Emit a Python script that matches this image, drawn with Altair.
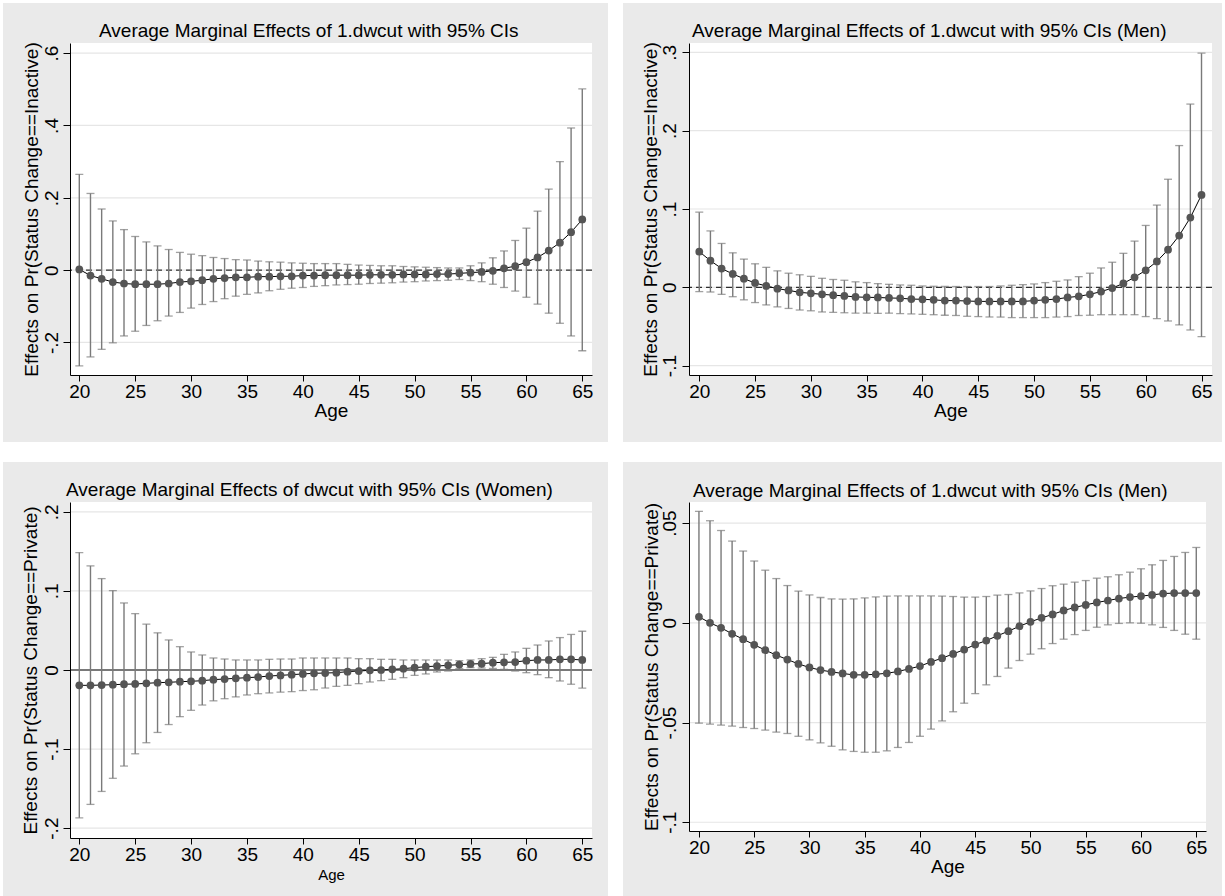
import altair as alt
import pandas as pd

FONT = "Liberation Sans, Arial, sans-serif"
GRAY_BG = "#EAEAEA"
GRID = "#E6E6E6"
BAR = "#7A7A7A"
PT = "#555555"

AGES = list(range(20, 66))
X_TICKS = [20, 25, 30, 35, 40, 45, 50, 55, 60, 65]

# Panel 1: Inactive, all
p1_est = [0.002, -0.015, -0.024, -0.033, -0.037, -0.039, -0.039, -0.039, -0.037, -0.033,
          -0.031, -0.028, -0.024, -0.022, -0.020, -0.020, -0.018, -0.018, -0.017, -0.017,
          -0.015, -0.015, -0.014, -0.014, -0.014, -0.014, -0.013, -0.013, -0.013, -0.012,
          -0.012, -0.012, -0.011, -0.011, -0.009, -0.007, -0.005, -0.002, 0.005, 0.011,
          0.022, 0.035, 0.054, 0.076, 0.105, 0.140]
p1_hi = [0.265, 0.212, 0.169, 0.136, 0.112, 0.093, 0.078, 0.067, 0.057, 0.049,
         0.044, 0.040, 0.035, 0.032, 0.029, 0.028, 0.025, 0.023, 0.022, 0.020,
         0.019, 0.018, 0.018, 0.018, 0.016, 0.014, 0.013, 0.012, 0.012, 0.010,
         0.009, 0.008, 0.007, 0.006, 0.006, 0.012, 0.020, 0.034, 0.053, 0.082,
         0.116, 0.163, 0.224, 0.300, 0.393, 0.501]
p1_lo = [-0.265, -0.240, -0.219, -0.201, -0.182, -0.169, -0.153, -0.140, -0.127, -0.117,
         -0.105, -0.095, -0.087, -0.079, -0.072, -0.067, -0.063, -0.057, -0.053, -0.050,
         -0.048, -0.045, -0.043, -0.041, -0.040, -0.039, -0.037, -0.036, -0.035, -0.033,
         -0.032, -0.030, -0.029, -0.028, -0.026, -0.029, -0.032, -0.039, -0.048, -0.058,
         -0.075, -0.094, -0.119, -0.147, -0.182, -0.223]

# Panel 2: Inactive, men
p2_est = [0.0455, 0.034, 0.024, 0.017, 0.011, 0.0055, 0.0017, -0.0017, -0.004, -0.0064,
          -0.0077, -0.009, -0.010, -0.011, -0.0123, -0.0128, -0.013, -0.0136, -0.014, -0.015,
          -0.0153, -0.016, -0.017, -0.017, -0.0175, -0.018, -0.018, -0.018, -0.018, -0.018,
          -0.017, -0.016, -0.015, -0.013, -0.0115, -0.009, -0.0055, -0.001, 0.005, 0.0128,
          0.0217, 0.033, 0.048, 0.066, 0.089, 0.118]
p2_hi = [0.096, 0.072, 0.056, 0.044, 0.036, 0.030, 0.0255, 0.021, 0.018, 0.016,
         0.014, 0.0115, 0.010, 0.009, 0.007, 0.006, 0.0047, 0.0038, 0.003, 0.0026,
         0.0017, 0.0013, 0.001, 0.001, 0.001, 0.001, 0.001, 0.0017, 0.0026, 0.0034,
         0.0043, 0.006, 0.0077, 0.0094, 0.0136, 0.018, 0.0247, 0.032, 0.0434, 0.059,
         0.079, 0.105, 0.138, 0.181, 0.234, 0.299]
p2_lo = [-0.0055, -0.006, -0.009, -0.012, -0.016, -0.0195, -0.0225, -0.025, -0.027, -0.029,
         -0.030, -0.0315, -0.032, -0.0325, -0.033, -0.033, -0.0333, -0.033, -0.0336, -0.034,
         -0.0345, -0.035, -0.0357, -0.036, -0.037, -0.0374, -0.0379, -0.038, -0.0387, -0.0387,
         -0.0387, -0.0387, -0.038, -0.0374, -0.036, -0.0357, -0.035, -0.035, -0.035, -0.035,
         -0.0374, -0.040, -0.043, -0.048, -0.0545, -0.063]

# Panel 3: Private, women
p3_est = [-0.0194, -0.0194, -0.019, -0.0186, -0.018, -0.0177, -0.0169, -0.016, -0.0156, -0.0148,
          -0.0143, -0.0135, -0.0122, -0.0114, -0.0105, -0.0097, -0.0089, -0.0076, -0.0068, -0.0059,
          -0.005, -0.0042, -0.0038, -0.0034, -0.0021, -0.0013, -0.0004, 0.0, 0.0008, 0.0017,
          0.003, 0.0042, 0.005, 0.0059, 0.0068, 0.0076, 0.008, 0.0093, 0.0097, 0.0101,
          0.0118, 0.0127, 0.0127, 0.0135, 0.0135, 0.0127]
p3_hi = [0.1485, 0.1317, 0.1156, 0.1004, 0.0848, 0.0713, 0.058, 0.047, 0.038, 0.0295,
         0.0228, 0.019, 0.0152, 0.0139, 0.0127, 0.0127, 0.0127, 0.0135, 0.0139, 0.0139,
         0.0152, 0.0152, 0.0152, 0.0152, 0.0152, 0.0143, 0.0143, 0.0135, 0.0135, 0.0127,
         0.0127, 0.0127, 0.0127, 0.0127, 0.0118, 0.0127, 0.0143, 0.016, 0.0198, 0.0228,
         0.0274, 0.0316, 0.0367, 0.041, 0.045, 0.049]
p3_lo = [-0.187, -0.170, -0.1536, -0.137, -0.1215, -0.106, -0.092, -0.079, -0.069, -0.059,
         -0.051, -0.0443, -0.039, -0.0363, -0.034, -0.0316, -0.030, -0.029, -0.028, -0.0274,
         -0.026, -0.025, -0.0228, -0.0207, -0.0194, -0.0173, -0.0152, -0.0135, -0.0118, -0.0097,
         -0.0068, -0.005, -0.0025, -0.0013, 0.0017, 0.003, 0.0025, 0.002, 0.0008, -0.0013,
         -0.0034, -0.0059, -0.0097, -0.0139, -0.018, -0.0228]

# Panel 4: Private, men
p4_est = [0.003, 0.0, -0.0025, -0.0055, -0.0082, -0.011, -0.0137, -0.0162, -0.0184, -0.0206,
          -0.0224, -0.0237, -0.0246, -0.0254, -0.0261, -0.0261, -0.0258, -0.0253, -0.0244, -0.0231,
          -0.0217, -0.0196, -0.0177, -0.0156, -0.0134, -0.0109, -0.0089, -0.0065, -0.0042, -0.0017,
          0.0005, 0.0025, 0.0042, 0.0062, 0.0077, 0.009, 0.0102, 0.0112, 0.0122, 0.0129,
          0.0134, 0.014, 0.0147, 0.0149, 0.0149, 0.0149]
p4_hi = [0.0559, 0.0512, 0.0463, 0.041, 0.036, 0.031, 0.0264, 0.0222, 0.0187, 0.0159,
         0.014, 0.0127, 0.012, 0.0119, 0.012, 0.0125, 0.013, 0.0134, 0.0135, 0.0135,
         0.0135, 0.0135, 0.0134, 0.0132, 0.0129, 0.0129, 0.0132, 0.0139, 0.0142, 0.015,
         0.016, 0.0172, 0.0186, 0.0194, 0.0204, 0.0212, 0.0224, 0.0231, 0.0241, 0.0254,
         0.0271, 0.0291, 0.0313, 0.0333, 0.0353, 0.0378]
p4_lo = [-0.0503, -0.0508, -0.0513, -0.0518, -0.0525, -0.053, -0.0538, -0.0548, -0.0555, -0.0569,
         -0.0587, -0.0602, -0.0619, -0.0637, -0.0645, -0.0649, -0.0649, -0.0642, -0.0625, -0.060,
         -0.0569, -0.0533, -0.0492, -0.0446, -0.0403, -0.0355, -0.0311, -0.0269, -0.0227, -0.0189,
         -0.0157, -0.013, -0.0104, -0.0082, -0.0059, -0.0038, -0.0022, -0.001, -0.0003, 0.0,
         -0.0002, -0.001, -0.0023, -0.0038, -0.0057, -0.0082]

p1_ticks = [-0.2, 0, 0.2, 0.4, 0.6]
p2_ticks = [-0.1, 0, 0.1, 0.2, 0.3]
p3_ticks = [-0.2, -0.1, 0, 0.1, 0.2]
p4_ticks = [-0.1, -0.05, 0, 0.05]

TITLES = [
    "Average Marginal Effects of 1.dwcut with 95% CIs",
    "Average Marginal Effects of 1.dwcut with 95% CIs (Men)",
    "Average Marginal Effects of dwcut with 95% CIs (Women)",
    "Average Marginal Effects of 1.dwcut with 95% CIs (Men)",
]
YTITLES = [
    "Effects on Pr(Status Change==Inactive)",
    "Effects on Pr(Status Change==Inactive)",
    "Effects on Pr(Status Change==Private)",
    "Effects on Pr(Status Change==Private)",
]


def panel(est, lo, hi, yticks, ydom, xdom, W, H, gx0, gx1, gy0, gy1,
          title, tdx, tdy, ytitle, ytx, ylpad, zero, age_size, strip=None):
    df = pd.DataFrame({"age": AGES, "est": est, "lo": lo, "hi": hi})
    xs = alt.Scale(domain=xdom, nice=False, zero=False)
    ys = alt.Scale(domain=ydom, nice=False, zero=False)
    xaxis = alt.Axis(values=X_TICKS, title="Age", grid=False, zindex=1,
                     tickSize=6, tickColor="#000", tickWidth=1,
                     domainColor="#000", domainWidth=1,
                     labelFontSize=19, labelFont=FONT, labelColor="#000",
                     labelBaseline="alphabetic", labelPadding=16.5, labelFlush=False,
                     labelAngle=0, labelOverlap=False,
                     titleFontSize=age_size, titleFont=FONT, titleFontWeight="normal",
                     titleColor="#000", titleBaseline="alphabetic", titleY=41)
    yaxis = alt.Axis(values=yticks, title=ytitle, grid=False, zindex=1,
                     tickSize=7, tickColor="#000", tickWidth=1,
                     domainColor="#000", domainWidth=1,
                     labelFontSize=19, labelFont=FONT, labelColor="#000",
                     labelAngle=270, labelAlign="center", labelBaseline="alphabetic",
                     labelPadding=ylpad, labelFlush=False, labelOverlap=False,
                     labelExpr="replace(toString(datum.value), '0.', '.')",
                     titleFontSize=19, titleFont=FONT, titleFontWeight="normal",
                     titleColor="#000", titleAngle=270, titleAlign="center",
                     titleBaseline="alphabetic", titleX=ytx, titleY=H / 2)
    X = alt.X("age:Q", scale=xs, axis=xaxis)

    one = alt.Data(values=[{"title": title}])
    layers = []
    layers.append(alt.Chart(one).mark_rect(color=GRAY_BG).encode(
        x=alt.value(gx0), x2=alt.value(gx1), y=alt.value(gy0), y2=alt.value(gy1)))
    if strip is not None:
        layers.append(alt.Chart(one).mark_rect(color="white").encode(
            x=alt.value(gx0), x2=alt.value(gx1), y=alt.value(strip), y2=alt.value(gy0)))
    layers.append(alt.Chart(one).mark_rect(color="white").encode(
        x=alt.value(0), x2=alt.value(W), y=alt.value(0), y2=alt.value(H)))
    layers.append(alt.Chart(pd.DataFrame({"v": yticks})).mark_rule(
        color=GRID, strokeWidth=1.2).encode(y=alt.Y("v:Q", scale=ys, axis=yaxis)))
    if zero == "dash":
        layers.append(alt.Chart(pd.DataFrame({"v": [0]})).mark_rule(
            color="#000", strokeWidth=1, strokeDash=[6, 4]).encode(
            y=alt.Y("v:Q", scale=ys, axis=yaxis)))
    elif zero == "solid":
        layers.append(alt.Chart(pd.DataFrame({"v": [0]})).mark_rule(
            color="#000", strokeWidth=1).encode(
            y=alt.Y("v:Q", scale=ys, axis=yaxis)))
    base = alt.Chart(df)
    layers.append(base.mark_rule(color=BAR, strokeWidth=1.4).encode(
        x=X, y=alt.Y("lo:Q", scale=ys, axis=yaxis), y2="hi:Q"))
    layers.append(base.mark_tick(color=BAR, orient="horizontal", size=8, thickness=1.3).encode(
        x=X, y=alt.Y("lo:Q", scale=ys, axis=yaxis)))
    layers.append(base.mark_tick(color=BAR, orient="horizontal", size=8, thickness=1.3).encode(
        x=X, y=alt.Y("hi:Q", scale=ys, axis=yaxis)))
    layers.append(base.mark_line(color="#000", strokeWidth=1).encode(
        x=X, y=alt.Y("est:Q", scale=ys, axis=yaxis)))
    layers.append(base.mark_circle(color=PT, size=60, opacity=1).encode(
        x=X, y=alt.Y("est:Q", scale=ys, axis=yaxis)))
    # panel title as text above the plot region
    layers.append(alt.Chart(one).mark_text(
        align="left", baseline="alphabetic", fontSize=19, font=FONT, color="#000").encode(
        x=alt.value(tdx), y=alt.value(tdy), text="title:N"))

    return alt.layer(*layers).properties(width=W, height=H)


p1 = panel(p1_est, p1_lo, p1_hi, p1_ticks, [-0.290, 0.628], [19.168, 65.87],
           522, 332, -67, 538, -40, 399, TITLES[0], 29, -6, YTITLES[0], -33, 5.7, "dash", 19)
p2 = panel(p2_est, p2_lo, p2_hi, p2_ticks, [-0.112, 0.312], [19.08, 65.94],
           523, 332, -66, 533, -40, 399, TITLES[1], 3, -6, YTITLES[1], -32.3, 6.3, "dash", 19)
p3 = panel(p3_est, p3_lo, p3_hi, p3_ticks, [-0.2125, 0.2125], [19.168, 65.87],
           522, 336, -67, 538, -40, 399, TITLES[2], -4, -6, YTITLES[2], -33.3, 5.7, "solid", 15)
p4 = panel(p4_est, p4_lo, p4_hi, p4_ticks, [-0.1044, 0.0606], [19.1, 65.88],
           517, 329, -66, 533, -40, 394, TITLES[3], 4, -5, YTITLES[3], -31.7, 6.4, "none", 19,
           strip=-45)

chart = alt.vconcat(
    alt.hconcat(p1, p2, spacing=15),
    alt.hconcat(p3, p4, spacing=15),
    spacing=15,
).properties(
    padding={"left": 3, "top": 3, "right": 3, "bottom": 0},
    background="white",
).configure_view(strokeWidth=0)

chart.save("out.html", embed_options={"renderer": "svg", "actions": False})
